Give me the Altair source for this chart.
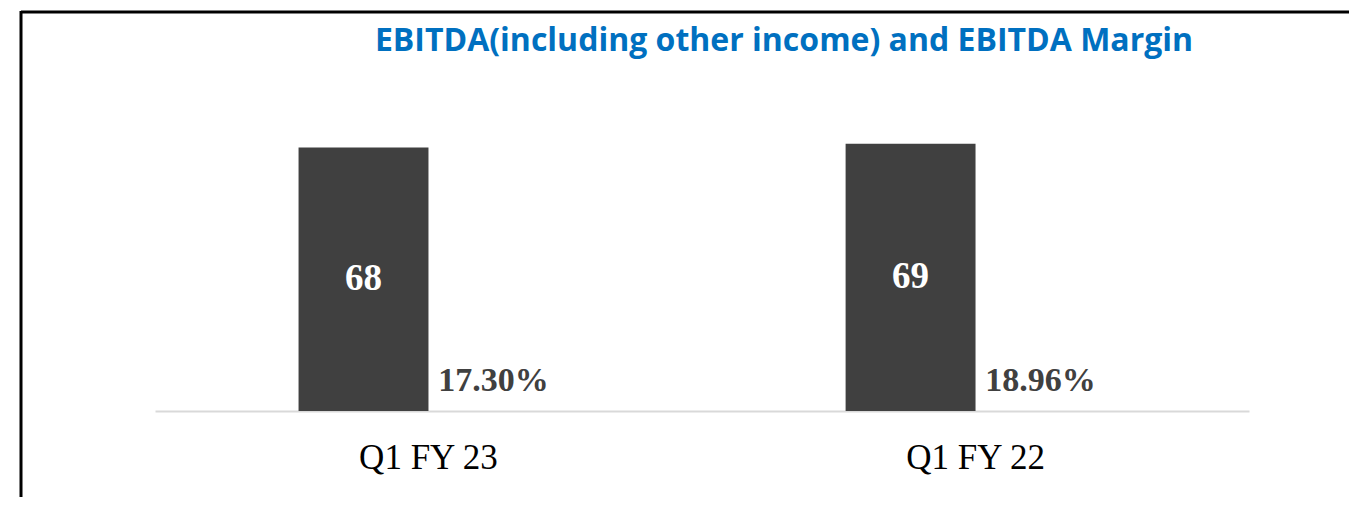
import altair as alt
import pandas as pd

categories = ["Q1 FY 23", "Q1 FY 22"]
ebitda = [68, 69]
margin_pct = [17.30, 18.96]
title_text = "EBITDA(including other income) and EBITDA Margin"

rows = []
for c, e, m in zip(categories, ebitda, margin_pct):
    rows.append({"cat": c, "series": "EBITDA", "value": e, "label": f"{e}"})
    rows.append({"cat": c, "series": "Margin", "value": m / 100, "label": f"{m:.2f}%"})
df = pd.DataFrame(rows)

W, H = 1094, 310
x = alt.X("cat:N", sort=categories, title=None,
          scale=alt.Scale(paddingInner=0.525, paddingOuter=0.2624),
          axis=alt.Axis(labelAngle=0, ticks=False, domainColor="#D9D9D9", domainWidth=2,
                        labelFont="Liberation Serif", labelFontSize=35, labelColor="#000000",
                        labelPadding=29))
xoff = alt.XOffset("series:N", sort=["EBITDA", "Margin"])
y = alt.Y("value:Q", scale=alt.Scale(domain=[0, 80]), axis=None)

base = alt.Chart(df)

bars = base.transform_filter(alt.datum.series == "EBITDA").mark_bar(color="#404040").encode(
    x=x, xOffset=xoff, y=y)

bar_labels = base.transform_filter(alt.datum.series == "EBITDA").transform_calculate(
    mid="datum.value / 2").mark_text(
    font="Liberation Serif", fontWeight="bold", fontSize=37, color="#FFFFFF",
    baseline="middle").encode(x=x, xOffset=xoff, y=alt.Y("mid:Q", scale=alt.Scale(domain=[0, 80]), axis=None),
                              text="label:N")

margin_labels = base.transform_filter(alt.datum.series == "Margin").mark_text(
    font="Liberation Serif", fontWeight="bold", fontSize=34, color="#404040",
    baseline="alphabetic", dy=-19).encode(x=x, xOffset=xoff, y=y, text="label:N")

title_df = pd.DataFrame({"t": [title_text]})
title = alt.Chart(title_df).mark_text(
    font="Open Sans", fontWeight="bold", fontSize=32, color="#0070C0",
    baseline="middle", align="center").encode(
    x=alt.value(629), y=alt.value(-60), text="t:N")

frame_df = pd.DataFrame({"k": [0]})
top_line = alt.Chart(frame_df).mark_rule(color="#000000", strokeWidth=3).encode(
    x=alt.value(-134), x2=alt.value(1210), y=alt.value(-89))
left_line = alt.Chart(frame_df).mark_rule(color="#000000", strokeWidth=3).encode(
    x=alt.value(-134), y=alt.value(-90), y2=alt.value(400))

chart = alt.layer(bars, bar_labels, margin_labels, title, top_line, left_line).properties(
    width=W, height=H,
    autosize=alt.AutoSizeParams(type="none"),
    padding={"left": 147, "top": 93, "right": 100, "bottom": 86},
).configure_view(stroke=None)

chart.save("out.html", embed_options={"renderer": "svg", "actions": False})
